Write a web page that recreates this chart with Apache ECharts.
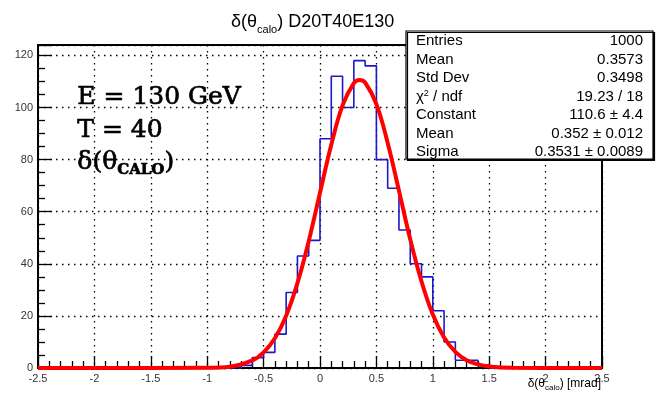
<!DOCTYPE html>
<html>
<head>
<meta charset="utf-8">
<script src="https://cdn.jsdelivr.net/npm/echarts@6/dist/echarts.min.js"></script>
<style>
  html, body { margin: 0; padding: 0; background: #fff; }
  #chart { width: 656px; height: 396px; }
</style>
</head>
<body>
<div id="chart"></div>
<script>
// histogram bins (left edges, width 0.1) and counts
const binLeft = [-0.7, -0.6, -0.5, -0.4, -0.3, -0.2, -0.1, 0, 0.1, 0.2, 0.3,
  0.4, 0.5, 0.6, 0.7, 0.8, 0.9, 1.0, 1.1, 1.2, 1.3, 1.4];
const binCounts = [1, 4, 6, 13, 29, 43, 49, 88, 112, 100, 118,
  116, 80, 69, 53, 40, 35, 22, 10, 3, 3, 1];
const binLastRight = 1.5;

// red fit curve
const fitX = [-2.5, -1.0, -0.8, -0.6, -0.5, -0.4, -0.3, -0.2, -0.1, 0, 0.1, 0.2, 0.3,
  0.35, 0.4, 0.5, 0.6, 0.7, 0.8, 0.9, 1.0, 1.1, 1.2, 1.3, 1.4, 1.5, 1.7, 2.5];
const fitY = [0, 0.1, 0.5, 2.9, 6.0, 11.4, 20.1, 32.6, 48.7, 67.3, 85.7, 100.8, 109.4,
  110.6, 109.6, 101.3, 86.4, 68.1, 49.4, 33.2, 20.5, 11.7, 6.2, 3.0, 1.4, 0.6, 0.1, 0];

const statsLabels = ['Entries', 'Mean', 'Std Dev', '{n|χ}{sup|2}{n| / ndf}', 'Constant', 'Mean', 'Sigma'];
const statsValues = ['1000', '0.3573', '0.3498', '19.23 / 18', '110.6 ± 4.4', '0.352 ± 0.012', '0.3531 ± 0.0089'];

const noteLines = ['E = 130 GeV', 'T = 40'];

const chart = echarts.init(document.getElementById('chart'));

const histData = [[-2.5, 0]];
binLeft.forEach((x, i) => histData.push([x, binCounts[i]]));
histData.push([binLastRight, 0]);
histData.push([2.5, 0]);

const fitData = fitX.map((x, i) => [x, fitY[i]]);

const font = '"Liberation Sans", Arial, sans-serif';
const serif = '"DejaVu Serif", "Liberation Serif", serif';

const gridLine = { show: true, lineStyle: { color: '#000', width: 1.3, type: [1.5, 4.5] } };

const statsGraphic = [{
  type: 'rect',
  shape: { x: 406, y: 31, width: 247, height: 128 },
  style: { fill: '#fff', stroke: '#000', lineWidth: 1.2, shadowColor: '#000', shadowOffsetX: 1.5, shadowOffsetY: 1.5, shadowBlur: 0 },
  z: 100
}];
statsLabels.forEach((t, i) => {
  statsGraphic.push({
    type: 'text', left: 416, top: 33.5 + i * 18.5, z: 101,
    style: {
      text: t, fill: '#000', font: '15px ' + font,
      rich: {
        n: { fontSize: 15, fontFamily: font },
        sup: { fontSize: 9, fontFamily: font, verticalAlign: 'top', padding: [0, 0, 7, 0] }
      }
    }
  });
  statsGraphic.push({
    type: 'text', x: 643, y: 33.5 + i * 18.5, z: 101,
    style: { text: statsValues[i], fill: '#000', font: '15px ' + font, align: 'right', verticalAlign: 'top' }
  });
});

const noteGraphic = noteLines.map((t, i) => ({
  type: 'text', left: 77, top: 85 + i * 33, z: 50,
  style: { text: t, fill: '#000', font: '25px ' + serif, stroke: '#000', lineWidth: 0.7 }
}));
noteGraphic.push({
  type: 'text', left: 77, top: 150, z: 50,
  style: {
    text: '{a|δ(θ}{s|CALO}{a|)}',
    stroke: '#000', lineWidth: 0.7,
    rich: {
      a: { fontSize: 25, fontFamily: serif, color: '#000' },
      s: { fontSize: 15, fontWeight: 'bold', fontFamily: serif, color: '#000', padding: [15, 0, 0, 0] }
    }
  }
});

// x axis title, bottom right under the frame
const axisTitle = {
  type: 'text', x: 601, y: 376, z: 50,
  style: {
    text: '{a|δ(θ}{s|calo}{a|) [mrad]}', align: 'right', verticalAlign: 'top',
    rich: {
      a: { fontSize: 12, fontFamily: font, color: '#000' },
      s: { fontSize: 8, fontFamily: font, color: '#000', padding: [8, 0, 0, 0] }
    }
  }
};

chart.setOption({
  animation: false,
  backgroundColor: '#fff',
  title: {
    text: '{a|δ(θ}{s|calo}{a|) D20T40E130}',
    left: 226, top: 5,
    textStyle: {
      fontWeight: 'normal',
      rich: {
        a: { fontSize: 18, fontWeight: 'normal', fontFamily: font, color: '#000' },
        s: { fontSize: 11, fontWeight: 'normal', fontFamily: font, color: '#000', padding: [14, 0, 0, 0] }
      }
    }
  },
  grid: {
    left: 38, right: 54, top: 45, bottom: 28, outerBoundsMode: 'none',
    show: true, borderColor: '#000', borderWidth: 2, backgroundColor: 'transparent'
  },
  xAxis: {
    type: 'value', min: -2.5, max: 2.5, interval: 0.5,
    axisLine: { show: true, onZero: false, lineStyle: { color: '#000', width: 2 } },
    axisTick: { show: true, inside: true, length: 12, lineStyle: { color: '#000', width: 1.3 } },
    minorTick: { show: true, splitNumber: 5, length: 7, lineStyle: { color: '#000', width: 1.3 } },
    axisLabel: { color: '#333', fontSize: 11, fontFamily: font, margin: 5 },
    splitLine: gridLine
  },
  yAxis: {
    type: 'value', min: 0, max: 124, interval: 20,
    axisLine: { show: true, onZero: false, lineStyle: { color: '#000', width: 2 } },
    axisTick: { show: true, inside: true, length: 14, lineStyle: { color: '#000', width: 1.3 } },
    minorTick: { show: true, splitNumber: 4, length: 7, lineStyle: { color: '#000', width: 1.3 } },
    axisLabel: { color: '#333', fontSize: 11, fontFamily: font, margin: 5, showMaxLabel: false },
    splitLine: gridLine
  },
  series: [
    {
      type: 'line', data: histData, step: 'end', showSymbol: false, symbol: 'none',
      lineStyle: { color: '#1a1acc', width: 1.6 }, z: 3
    },
    {
      type: 'line', data: fitData, smooth: 0.4, showSymbol: false, symbol: 'none',
      lineStyle: { color: '#ff0000', width: 4 }, z: 4
    }
  ],
  graphic: statsGraphic.concat(noteGraphic, [axisTitle])
});
</script>
</body>
</html>
